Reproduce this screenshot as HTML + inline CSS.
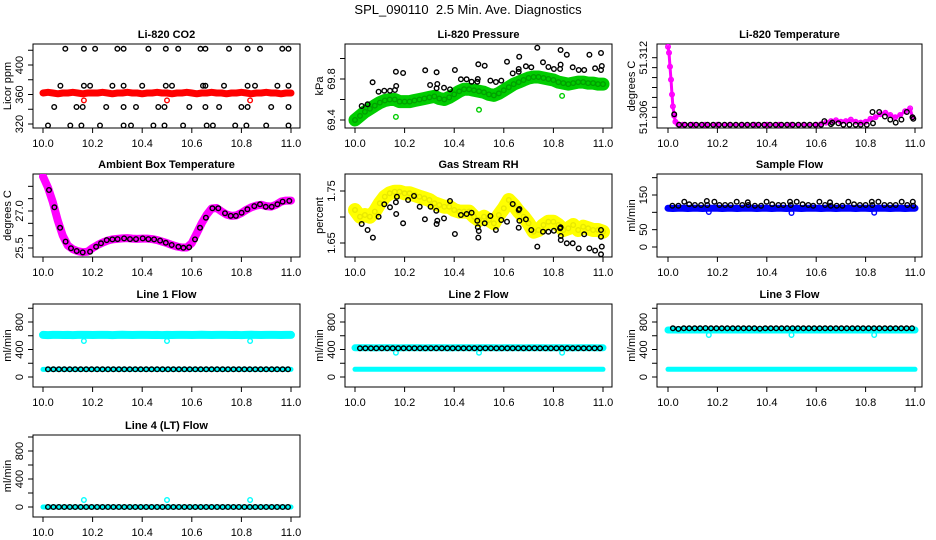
<!DOCTYPE html>
<html><head><meta charset="utf-8"><style>
html,body{margin:0;padding:0;background:#fff;}
svg{display:block;font-family:"Liberation Sans",Arial,sans-serif;}
</style></head><body>
<svg id="chart" width="936" height="540" viewBox="0 0 936 540" xmlns="http://www.w3.org/2000/svg">
<rect x="0" y="0" width="936" height="540" fill="#fff"/>
<text x="468" y="14" text-anchor="middle" font-size="13" style="white-space:pre">SPL_090110  2.5 Min. Ave. Diagnostics</text>
</svg>
<script>
const gridX=[10.00,10.02,10.04,10.06,10.08,10.10,10.12,10.14,10.16,10.18,10.20,10.22,10.24,10.26,10.28,10.30,10.32,10.34,10.36,10.38,10.40,10.42,10.44,10.46,10.48,10.50,10.52,10.54,10.56,10.58,10.60,10.62,10.64,10.66,10.68,10.70,10.72,10.74,10.76,10.78,10.80,10.82,10.84,10.86,10.88,10.90,10.92,10.94,10.96,10.98,11.00];
const xTicks=[10.0,10.2,10.4,10.6,10.8,11.0];
const xTickLabels=['10.0','10.2','10.4','10.6','10.8','11.0'];
const dipX=[10.165,10.5,10.835];

// CO2
const co2Red=[362,363,362,361,362,362,363,362,361,362,362,362,363,362,361,362,362,363,362,362,361,362,362,363,362,362,361,362,362,363,362,361,362,362,363,362,362,361,362,362,363,362,361,362,362,363,362,362,361,362,362];
const co2RedOut=[352,352,352];
const co2BlackX=[10.09,10.165,10.21,10.30,10.325,10.425,10.495,10.545,10.635,10.655,10.75,10.825,10.875,10.965,10.99,
10.07,10.165,10.19,10.28,10.325,10.40,10.495,10.52,10.645,10.655,10.73,10.825,10.855,10.945,10.99,
10.045,10.135,10.16,10.255,10.325,10.375,10.465,10.49,10.59,10.655,10.71,10.80,10.825,10.92,10.99,
10.02,10.11,10.155,10.23,10.325,10.355,10.445,10.49,10.565,10.66,10.685,10.775,10.82,10.90,10.99];
const co2BlackY=[422,422,422,422,422,422,422,422,422,422,422,422,422,422,422,
372,372,372,372,372,372,372,372,372,372,372,372,372,372,372,
343,343,343,343,343,343,343,343,343,343,343,343,343,343,343,
318,318,318,318,318,318,318,318,318,318,318,318,318,318,318];
const co2Ticks=[320,340,360,380,400,420];
const co2TickLabels=['320','','360','','400',''];

// Pressure
const presGreen=[69.40,69.44,69.48,69.51,69.54,69.57,69.59,69.60,69.60,69.58,69.58,69.58,69.59,69.60,69.61,69.62,69.63,69.61,69.60,69.62,69.65,69.68,69.70,69.70,69.69,69.68,69.67,69.65,69.64,69.66,69.69,69.72,69.75,69.77,69.79,69.81,69.82,69.82,69.81,69.80,69.79,69.77,69.76,69.75,69.76,69.77,69.77,69.76,69.76,69.75,69.75];
const presGreenOut=[69.43,69.50,69.635];
const presBlackX=[10.027,10.051,10.071,10.095,10.118,10.141,10.161,10.166,10.165,10.194,10.283,10.303,10.329,10.332,10.329,10.359,10.383,10.403,10.427,10.450,10.470,10.493,10.497,10.495,10.523,10.546,10.568,10.590,10.613,10.636,10.660,10.662,10.660,10.689,10.711,10.735,10.758,10.780,10.802,10.827,10.829,10.829,10.854,10.878,10.902,10.924,10.945,10.968,10.992,10.995,10.992];
const presBlackY=[69.537,69.553,69.768,69.676,69.686,69.686,69.693,69.732,69.871,69.859,69.885,69.741,69.865,69.751,69.709,69.715,69.699,69.888,69.797,69.797,69.774,69.774,69.943,69.800,69.930,69.784,69.771,69.784,69.969,69.855,69.871,70.018,69.898,69.924,69.914,70.105,69.963,69.917,69.898,69.898,69.940,70.083,70.037,69.914,69.888,69.888,70.037,69.904,70.054,69.927,69.888];
const presTicks=[69.4,69.6,69.8,70.0];
const presTickLabels=['69.4','','69.8',''];

// Li-820 temperature
const tempX=[10.000,10.004,10.008,10.012,10.016,10.020,10.025,10.030,10.040,10.06,10.10,10.15,10.20,10.25,10.30,10.35,10.40,10.45,10.50,10.55,10.60,10.62,10.64,10.66,10.68,10.70,10.72,10.74,10.76,10.78,10.80,10.82,10.84,10.86,10.88,10.90,10.92,10.94,10.96,10.98,10.99];
const tempMag=[51.3131,51.3125,51.3111,51.3098,51.3083,51.3071,51.30615,51.30555,51.30532,51.30525,51.30525,51.30525,51.30525,51.30525,51.30525,51.30525,51.30525,51.30525,51.30525,51.30525,51.30525,51.30532,51.30547,51.30562,51.3057,51.30555,51.30562,51.30577,51.30555,51.30547,51.30555,51.30585,51.3060,51.3063,51.30645,51.30623,51.3060,51.30623,51.3066,51.3069,51.3060];
const tempBlackX=[10.025,10.045,10.068,10.091,10.114,10.137,10.160,10.183,10.206,10.229,10.252,10.275,10.298,10.321,10.344,10.367,10.390,10.413,10.436,10.459,10.482,10.505,10.528,10.551,10.574,10.597,10.620,10.633,10.66,10.665,10.69,10.71,10.735,10.76,10.78,10.805,10.828,10.83,10.855,10.878,10.90,10.922,10.945,10.967,10.99,10.993];
const tempBlackY=[51.3063,51.30525,51.30525,51.30525,51.30525,51.30525,51.30525,51.30525,51.30525,51.30525,51.30525,51.30525,51.30525,51.30525,51.30525,51.30525,51.30525,51.30525,51.30525,51.30525,51.30525,51.30525,51.30525,51.30525,51.30525,51.30525,51.30525,51.30562,51.30532,51.30547,51.3054,51.30525,51.30525,51.30525,51.30525,51.30525,51.30653,51.3054,51.30653,51.30608,51.30577,51.30547,51.30577,51.30653,51.3060,51.30585];
const tempTicks=[51.306,51.307,51.308,51.309,51.310,51.311,51.312];
const tempTickLabels=['51.306','','','','','','51.312'];

// Ambient
const ambMag=[28.4,27.95,27.35,26.6,26.0,25.6,25.45,25.37,25.33,25.35,25.5,25.62,25.72,25.8,25.85,25.87,25.89,25.9,25.88,25.87,25.88,25.88,25.86,25.82,25.76,25.7,25.62,25.56,25.52,25.52,25.7,26.1,26.5,26.85,27.1,27.12,26.98,26.86,26.8,26.82,26.92,27.05,27.15,27.22,27.25,27.2,27.18,27.25,27.38,27.42,27.42];
const ambBlackX=[10.024,10.046,10.069,10.091,10.113,10.136,10.160,10.190,10.214,10.234,10.257,10.280,10.301,10.327,10.351,10.375,10.402,10.425,10.448,10.472,10.495,10.519,10.546,10.566,10.589,10.613,10.633,10.657,10.683,10.707,10.734,10.757,10.778,10.801,10.824,10.852,10.875,10.898,10.922,10.945,10.966,10.993];
const ambBlackY=[27.85,27.15,26.32,25.76,25.49,25.38,25.32,25.35,25.55,25.69,25.82,25.85,25.86,25.89,25.86,25.86,25.89,25.86,25.85,25.80,25.71,25.62,25.55,25.51,25.53,25.85,26.32,26.73,27.11,27.11,26.91,26.80,26.80,26.93,27.07,27.20,27.27,27.17,27.17,27.27,27.38,27.41];
const ambTicks=[25.5,26.0,26.5,27.0,27.5,28.0];
const ambTickLabels=['25.5','','','27.0','',''];

// Gas stream RH
const rhYellow=[1.7135,1.7006,1.7038,1.7006,1.7103,1.7263,1.739,1.7455,1.7487,1.7487,1.7455,1.7455,1.7423,1.739,1.736,1.7327,1.7263,1.723,1.7198,1.7198,1.7135,1.7103,1.7103,1.7103,1.7006,1.6942,1.7006,1.6942,1.6878,1.7038,1.7167,1.7327,1.723,1.7103,1.7006,1.6878,1.6718,1.675,1.6846,1.691,1.691,1.6846,1.675,1.6783,1.6846,1.675,1.6814,1.6783,1.675,1.675,1.6718];
const rhBlackX=[10.027,10.051,10.072,10.095,10.118,10.141,10.165,10.166,10.169,10.194,10.214,10.238,10.261,10.282,10.305,10.328,10.329,10.332,10.359,10.383,10.403,10.427,10.450,10.470,10.493,10.495,10.497,10.499,10.523,10.546,10.568,10.590,10.613,10.636,10.660,10.663,10.660,10.663,10.689,10.711,10.735,10.758,10.780,10.802,10.827,10.830,10.830,10.829,10.854,10.878,10.902,10.924,10.945,10.968,10.992,10.995,10.992,10.992];
const rhBlackY=[1.6865,1.675,1.6603,1.7006,1.7244,1.7186,1.7282,1.7058,1.7391,1.6878,1.7327,1.7404,1.7199,1.6955,1.7199,1.7122,1.6865,1.6929,1.6974,1.7308,1.6673,1.7038,1.7058,1.7083,1.6929,1.6801,1.6603,1.6731,1.6878,1.7019,1.675,1.6942,1.691,1.725,1.7135,1.7154,1.6795,1.6929,1.6955,1.675,1.643,1.6718,1.6718,1.6737,1.6782,1.6635,1.6558,1.6801,1.6494,1.6494,1.6397,1.6667,1.6397,1.6353,1.675,1.643,1.6622,1.6282];
const rhTicks=[1.65,1.70,1.75];
const rhTickLabels=['1.65','','1.75'];

// Sample flow
const sampBlue=[112,111,112,112,111,112,112,111,112,112,112,111,112,112,111,112,112,112,111,112,112,111,112,112,111,112,112,111,112,112,112,111,112,112,111,112,112,112,111,112,112,111,112,112,112,111,112,112,111,112,112];
const sampBlueOut=[101,98,99];
const sampBlackX=[10.018,10.042,10.066,10.086,10.109,10.134,10.157,10.159,10.188,10.208,10.231,10.254,10.278,10.301,10.323,10.325,10.352,10.377,10.399,10.422,10.447,10.467,10.494,10.497,10.521,10.545,10.568,10.588,10.613,10.636,10.656,10.659,10.683,10.706,10.730,10.753,10.777,10.800,10.825,10.827,10.852,10.876,10.899,10.922,10.946,10.969,10.991,10.993];
const sampBlackY=[119.2,119.2,130.8,123.1,121.1,121.1,132.7,121.1,130.8,121.1,121.1,121.1,130.8,121.1,128.9,121.1,119.2,119.2,130.8,123.1,121.1,121.1,130.8,121.1,130.8,123.1,121.1,119.2,130.8,121.1,128.9,119.2,119.2,119.2,130.8,123.1,121.1,121.1,130.8,121.1,130.8,121.1,121.1,121.1,130.8,121.1,130.8,119.2];
const sampTicks=[0,50,100,150,200];
const sampTickLabels=['0','50','','150',''];

// Line flows
const flowX=[10.020,10.042,10.064,10.086,10.108,10.130,10.152,10.174,10.196,10.218,10.240,10.262,10.284,10.306,10.328,10.350,10.372,10.394,10.416,10.438,10.460,10.482,10.504,10.526,10.548,10.570,10.592,10.614,10.636,10.658,10.680,10.702,10.724,10.746,10.768,10.790,10.812,10.834,10.856,10.878,10.900,10.922,10.944,10.966,10.988];
const flowTicks=[0,200,400,600,800,1000];
const flowTickLabels=['0','','400','','800',''];
const l1CyanHi=[612,610,612,613,611,612,610,612,613,612,611,612,613,612,610,612,614,612,611,612,613,612,611,612,610,612,611,612,613,612,611,612,614,612,611,612,613,612,611,612,610,612,614,612,611,612,613,612,611,612,612];
const l1CyanLo=[110,110,110,110,110,110,110,110,110,110,110,110,110,110,110,110,110,110,110,110,110,110,110,110,110,110,110,110,110,110,110,110,110,110,110,110,110,110,110,110,110,110,110,110,110,110,110,110,110,110,110];
const l1Dip=[524,524,524];
const l1Black=[112,112,112,112,112,112,112,112,112,112,112,112,112,112,112,112,112,112,112,112,112,112,112,112,112,112,112,112,112,112,112,112,112,112,112,112,112,112,112,112,112,112,112,112,112];
const l2CyanHi=[425,425,426,425,424,425,426,425,425,424,425,426,425,425,424,425,426,425,425,424,425,426,425,425,424,425,426,425,425,424,425,426,425,425,424,425,426,425,425,424,425,426,425,425,424,425,426,425,425,424,425];
const l2CyanLo=[112,112,112,112,112,112,112,112,112,112,112,112,112,112,112,112,112,112,112,112,112,112,112,112,112,112,112,112,112,112,112,112,112,112,112,112,112,112,112,112,112,112,112,112,112,112,112,112,112,112,112];
const l2Dip=[353,353,353];
const l2Black=[417,417,417,417,417,417,417,417,417,417,417,417,417,417,417,417,417,417,417,417,417,417,417,417,417,417,417,417,417,417,417,417,417,417,417,417,417,417,417,417,417,417,417,417,417];
const l3CyanHi=[684,684,685,684,683,684,685,684,684,683,684,685,684,684,683,684,685,684,684,683,684,685,684,684,683,684,685,684,684,683,684,685,684,684,683,684,685,684,684,683,684,685,684,684,683,684,685,684,684,683,684];
const l3CyanLo=[112,112,112,112,112,112,112,112,112,112,112,112,112,112,112,112,112,112,112,112,112,112,112,112,112,112,112,112,112,112,112,112,112,112,112,112,112,112,112,112,112,112,112,112,112,112,112,112,112,112,112];
const l3Dip=[611,611,611];
const l3Black=[708,700,708,708,708,708,712,708,708,708,708,708,708,708,708,708,704,708,708,708,708,708,710,708,708,708,708,708,708,708,708,708,708,708,708,708,708,708,708,708,708,708,708,708,710];
const l4Cyan=[0,0,0,0,0,0,0,0,0,0,0,0,0,0,0,0,0,0,0,0,0,0,0,0,0,0,0,0,0,0,0,0,0,0,0,0,0,0,0,0,0,0,0,0,0,0,0,0,0,0,0];
const l4Dip=[100,100,100];
const l4Black=[0,0,0,0,0,0,0,0,0,0,0,0,0,0,0,0,0,0,0,0,0,0,0,0,0,0,0,0,0,0,0,0,0,0,0,0,0,0,0,0,0,0,0,0,0];

const NS='http://www.w3.org/2000/svg';
const svg=document.getElementById('chart');
function mk(tag,attrs,parent){const e=document.createElementNS(NS,tag);for(const k in attrs)e.setAttribute(k,attrs[k]);(parent||svg).appendChild(e);return e;}

const cols=[{l:33,r:300,x0:43,x1:291},{l:345,r:612,x0:355,x1:603},{l:657,r:922,x0:668,x1:915}];
const rows=[{t:44,b:128},{t:174,b:257},{t:304,b:387},{t:435,b:517}];

function panel(name,title,ylab,ci,ri,v0,p0,v1,p1,ticks,tlabels){
  const c=cols[ci],r=rows[ri];
  const g=mk('g',{});
  
  
  const sx=v=>c.x0+(v-10)*(c.x1-c.x0);
  const sy=v=>p0+(v-v0)*(p1-p0)/(v1-v0);
  const box=mk('rect',{x:c.l,y:r.t,width:c.r-c.l,height:r.b-r.t,fill:'none',stroke:'#000','stroke-width':1},g);
  
  
  const tt=mk('text',{x:(c.l+c.r)/2,y:r.t-6,'text-anchor':'middle','font-size':11,'font-weight':'bold'},g);
  tt.textContent=title;
  
  
  const xa=mk('g',{},g);
  
  
  mk('line',{x1:sx(xTicks[0]),x2:sx(xTicks[xTicks.length-1]),y1:r.b,y2:r.b,stroke:'#000'},xa);
  xTicks.forEach((t,i)=>{
    mk('line',{x1:sx(t),x2:sx(t),y1:r.b,y2:r.b+5,stroke:'#000'},xa);
    const tx=mk('text',{x:sx(t),y:r.b+19,'text-anchor':'middle','font-size':11},xa);
    tx.textContent=xTickLabels[i];
    
    
  });
  const ya=mk('g',{},g);
  
  
  mk('line',{x1:c.l,x2:c.l,y1:sy(ticks[0]),y2:sy(ticks[ticks.length-1]),stroke:'#000'},ya);
  ticks.forEach((t,i)=>{
    const y=sy(t);
    mk('line',{x1:c.l-5,x2:c.l,y1:y,y2:y,stroke:'#000'},ya);
    if(tlabels[i]){
      const bx=c.l-10;
      const ty=mk('text',{x:bx,y:y,'text-anchor':'middle','font-size':11,transform:`rotate(-90 ${bx} ${y})`},ya);
      ty.textContent=tlabels[i];
      
      
    }
  });
  const lx=c.l-22, ly=(r.t+r.b)/2;
  const yl=mk('text',{x:lx,y:ly,'text-anchor':'middle','font-size':11,transform:`rotate(-90 ${lx} ${ly})`},g);
  yl.textContent=ylab;
  
  
  const clipId='clip-'+name;
  const cp=mk('clipPath',{id:clipId},g);
  mk('rect',{x:c.l,y:r.t,width:c.r-c.l,height:r.b-r.t},cp);
  const marks=mk('g',{'clip-path':`url(#${clipId})`},g);
  
  
  return {sx,sy,marks};
}
function band(P,xs,ys,color,w,nm){
  const pts=xs.map((x,i)=>P.sx(x).toFixed(1)+','+P.sy(ys[i]).toFixed(1)).join(' ');
  const pl=mk('polyline',{points:pts,fill:'none',stroke:color,'stroke-width':w,'stroke-linejoin':'round','stroke-linecap':'round'},P.marks);
  
  
}
function pts(P,xs,ys,color,nm,r,sw){
  const g=mk('g',{},P.marks);
  
  
  xs.forEach((x,i)=>{
    const c=mk('circle',{cx:P.sx(x).toFixed(1),cy:P.sy(ys[i]).toFixed(1),r:r||2.3,fill:'none',stroke:color,'stroke-width':sw||1.4},g);
    
    
  });
}
const RED='#ff0000',GRN='#00cd00',MAG='#ff00ff',YEL='#ffff00',BLU='#0000ff',CYN='#00ffff',BLK='#000';

let P=panel('co2','Li-820 CO2','Licor ppm',0,0,320,124,400,65,co2Ticks,co2TickLabels);
band(P,gridX,co2Red,RED,7,'co2-red-band');
pts(P,gridX,co2Red,RED,'co2-red-series');
pts(P,dipX,co2RedOut,RED,'co2-red-outliers');
pts(P,co2BlackX,co2BlackY,BLK,'co2-black-series');

P=panel('pressure','Li-820 Pressure','kPa',1,0,69.4,120,69.8,79,presTicks,presTickLabels);
band(P,gridX,presGreen,GRN,13,'pressure-green-band');
pts(P,gridX,presGreen,'#00a000','pressure-green-series');
pts(P,dipX,presGreenOut,GRN,'pressure-green-outliers');
pts(P,presBlackX,presBlackY,BLK,'pressure-black-series');

P=panel('temperature','Li-820 Temperature','degrees C',2,0,51.306,117.3,51.312,57.7,tempTicks,tempTickLabels);
band(P,tempX,tempMag,MAG,3,'temperature-magenta-band');
pts(P,tempX,tempMag,MAG,'temperature-magenta-series');
pts(P,tempBlackX,tempBlackY,BLK,'temperature-black-series');

P=panel('ambient','Ambient Box Temperature','degrees C',0,1,25.5,248,27.0,211,ambTicks,ambTickLabels);
band(P,gridX,ambMag,MAG,8,'ambient-magenta-band');
pts(P,ambBlackX,ambBlackY,BLK,'ambient-black-series');

P=panel('rh','Gas Stream RH','percent',1,1,1.65,243,1.75,191,rhTicks,rhTickLabels);
band(P,gridX,rhYellow,YEL,14,'rh-yellow-band');
pts(P,gridX,rhYellow,'#e8e800','rh-yellow-series');
pts(P,rhBlackX,rhBlackY,BLK,'rh-black-series');

P=panel('sample','Sample Flow','ml/min',2,1,0,247,150,195,sampTicks,sampTickLabels);
band(P,gridX,sampBlue,BLU,7,'sample-blue-band');
pts(P,dipX,sampBlueOut,BLU,'sample-blue-outliers');
pts(P,sampBlackX,sampBlackY,BLK,'sample-black-series');

P=panel('line1','Line 1 Flow','ml/min',0,2,0,377,800,322,flowTicks,flowTickLabels);
band(P,gridX,l1CyanHi,CYN,8,'line1-cyan-high-band');
band(P,gridX,l1CyanLo,CYN,5,'line1-cyan-low-band');
pts(P,dipX,l1Dip,CYN,'line1-cyan-dips');
pts(P,flowX,l1Black,BLK,'line1-black-series');

P=panel('line2','Line 2 Flow','ml/min',1,2,0,377,800,322,flowTicks,flowTickLabels);
band(P,gridX,l2CyanHi,CYN,7,'line2-cyan-high-band');
band(P,gridX,l2CyanLo,CYN,5,'line2-cyan-low-band');
pts(P,dipX,l2Dip,CYN,'line2-cyan-dips');
pts(P,flowX,l2Black,BLK,'line2-black-series');

P=panel('line3','Line 3 Flow','ml/min',2,2,0,377,800,322,flowTicks,flowTickLabels);
band(P,gridX,l3CyanHi,CYN,7,'line3-cyan-high-band');
band(P,gridX,l3CyanLo,CYN,5,'line3-cyan-low-band');
pts(P,dipX,l3Dip,CYN,'line3-cyan-dips');
pts(P,flowX,l3Black,BLK,'line3-black-series');

P=panel('line4','Line 4 (LT) Flow','ml/min',0,3,0,507,800,451,flowTicks,flowTickLabels);
band(P,gridX,l4Cyan,CYN,5,'line4-cyan-band');
pts(P,dipX,l4Dip,CYN,'line4-cyan-dips');
pts(P,flowX,l4Black,BLK,'line4-black-series');
</script>
</body></html>
